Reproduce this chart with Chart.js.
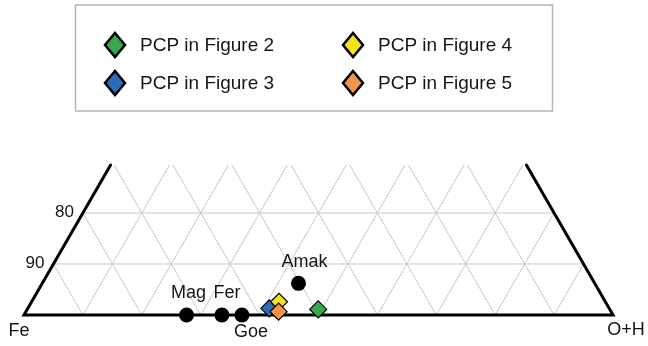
<!DOCTYPE html>
<html lang="en">
<head>
  <meta charset="UTF-8" />
  <script src="https://cdn.jsdelivr.net/npm/chart.js"></script>
  <style>
    html, body { margin: 0; padding: 0; background: #fff; }
    #wrap { width: 648px; height: 346px; position: relative; }
  </style>
</head>
<body>
  <div id="wrap"><canvas id="ternChart" width="648" height="346"></canvas></div>

  <script>
    // ternary compositions (fractions), Fe = 1 - oh - top
    const mineralNames = ['Mag', 'Fer', 'Goe', 'Amak'];
    const mineralOH    = [0.276, 0.336, 0.370, 0.435];
    const mineralTop   = [0.000, 0.000, 0.000, 0.062];

    const pcpNames  = ['PCP in Figure 2', 'PCP in Figure 3', 'PCP in Figure 4', 'PCP in Figure 5'];
    const pcpOH     = [0.494, 0.410, 0.420, 0.429];
    const pcpTop    = [0.011, 0.013, 0.026, 0.0065];
    const pcpColors = ['#36a852', '#2d6cb8', '#f4e31c', '#f0964c'];

    const leftTicks  = [90, 80];   // Fe % labels on left edge
    const topLimit = 0.294;        // visible part of the ternary (top fraction)
    const H = Math.sqrt(3) / 2;

    const toXY = (oh, top) => ({ x: oh + top / 2, y: top * H });

    const fontStack = '"Liberation Sans", Arial, sans-serif';
    const textColor = '#161616';

    // label placement relative to point (pixels)
    const labelOffsets = { Mag: [2, -22], Fer: [5, -22], Goe: [9, 17], Amak: [6, -21] };

    const ternaryFrame = {
      id: 'ternaryFrame',
      beforeDatasetsDraw(chart) {
        const { ctx, scales: { x, y } } = chart;
        const px = (oh, top) => { const p = toXY(oh, top); return [x.getPixelForValue(p.x), y.getPixelForValue(p.y)]; };
        const corners = [px(0, 0), px(1, 0), px(1 - topLimit, topLimit), px(0, topLimit)];

        ctx.save();
        ctx.beginPath();
        corners.forEach((c, i) => i ? ctx.lineTo(c[0], c[1]) : ctx.moveTo(c[0], c[1]));
        ctx.closePath();
        ctx.clip();
        ctx.strokeStyle = '#c8c8c8';
        ctx.lineWidth = 1;
        ctx.beginPath();
        [0.1, 0.2].forEach(t => {
          const a = px(0, t), b = px(1 - t, t);
          ctx.moveTo(a[0], a[1]); ctx.lineTo(b[0], b[1]);
        });
        for (let k = 1; k <= 9; k++) {
          const f = k / 10;
          // constant O+H (parallel to left edge)
          let a = px(f, 0), b = px(f, 1 - f);
          ctx.moveTo(a[0], a[1]); ctx.lineTo(b[0], b[1]);
          // constant Fe (parallel to right edge)
          a = px(f, 0); b = px(0, f);
          ctx.moveTo(a[0], a[1]); ctx.lineTo(b[0], b[1]);
        }
        ctx.stroke();
        ctx.restore();

        ctx.save();
        ctx.strokeStyle = '#000';
        ctx.lineWidth = 3;
        ctx.lineCap = 'round';
        ctx.beginPath();
        ctx.moveTo(corners[3][0], corners[3][1]);
        ctx.lineTo(corners[0][0], corners[0][1]);
        ctx.lineTo(corners[1][0], corners[1][1]);
        ctx.lineTo(corners[2][0], corners[2][1]);
        ctx.stroke();

        ctx.fillStyle = textColor;
        ctx.font = '17px ' + fontStack;
        ctx.textAlign = 'right';
        ctx.textBaseline = 'middle';
        leftTicks.forEach(v => {
          const t = 1 - v / 100;
          const p = px(0, t);
          ctx.fillText(String(v), p[0] - 9, p[1] - 1);
        });

        ctx.font = '18px ' + fontStack;
        ctx.textAlign = 'center';
        const fe = px(0, 0), oh = px(1, 0);
        ctx.fillText('Fe', fe[0] - 5, fe[1] + 16);
        ctx.fillText('O+H', oh[0] + 13, oh[1] + 15);
        ctx.restore();
      },
      afterDatasetsDraw(chart) {
        const { ctx, scales: { x, y } } = chart;
        ctx.save();
        ctx.fillStyle = textColor;
        ctx.font = '18px ' + fontStack;
        ctx.textAlign = 'center';
        ctx.textBaseline = 'middle';
        mineralNames.forEach((n, i) => {
          const p = toXY(mineralOH[i], mineralTop[i]);
          const o = labelOffsets[n];
          ctx.fillText(n, x.getPixelForValue(p.x) + o[0], y.getPixelForValue(p.y) + o[1]);
        });
        ctx.restore();
      },
      afterDraw(chart) {
        const { ctx } = chart;
        ctx.save();
        ctx.strokeStyle = '#b5b5b5';
        ctx.lineWidth = 1.5;
        ctx.strokeRect(75.5, 5, 477, 106);
        // 2x2 legend: Fig2, Fig4 on top row, Fig3, Fig5 below
        const slots = [[115, 45], [115, 83], [353, 45], [353, 83]];
        ctx.font = '19px ' + fontStack;
        ctx.textBaseline = 'middle';
        ctx.textAlign = 'left';
        pcpNames.forEach((n, i) => {
          const [cx, cy] = slots[i];
          ctx.beginPath();
          ctx.moveTo(cx, cy - 12); ctx.lineTo(cx + 10, cy);
          ctx.lineTo(cx, cy + 12); ctx.lineTo(cx - 10, cy);
          ctx.closePath();
          ctx.fillStyle = pcpColors[i];
          ctx.fill();
          ctx.lineWidth = 2.5;
          ctx.strokeStyle = '#000';
          ctx.stroke();
          ctx.fillStyle = textColor;
          ctx.fillText(n, cx + 25, cy + 1);
        });
        ctx.restore();
      }
    };

    const pcpOrder = [3, 4, 2, 1]; // draw orange on top, then yellow, blue, green
    const datasets = pcpNames.map((n, i) => ({
      label: n,
      data: [toXY(pcpOH[i], pcpTop[i])],
      backgroundColor: pcpColors[i],
      borderColor: '#000',
      borderWidth: 1.2,
      pointStyle: 'rectRot',
      pointRadius: 8.5,
      order: pcpOrder[i],
      clip: false
    }));
    datasets.push({
      label: 'Minerals',
      data: mineralNames.map((n, i) => toXY(mineralOH[i], mineralTop[i])),
      backgroundColor: '#000',
      borderColor: '#000',
      borderWidth: 0,
      pointStyle: 'circle',
      pointRadius: 7.5,
      order: 5,
      clip: false
    });

    new Chart(document.getElementById('ternChart').getContext('2d'), {
      type: 'scatter',
      data: { datasets },
      plugins: [ternaryFrame],
      options: {
        responsive: false,
        animation: false,
        layout: { padding: { left: 24, right: 35, top: 165, bottom: 31 } },
        scales: {
          x: { type: 'linear', min: 0, max: 1, display: false },
          y: { type: 'linear', min: 0, max: topLimit * H, display: false }
        },
        plugins: {
          legend: { display: false },
          tooltip: { enabled: false }
        }
      }
    });
  </script>
</body>
</html>
